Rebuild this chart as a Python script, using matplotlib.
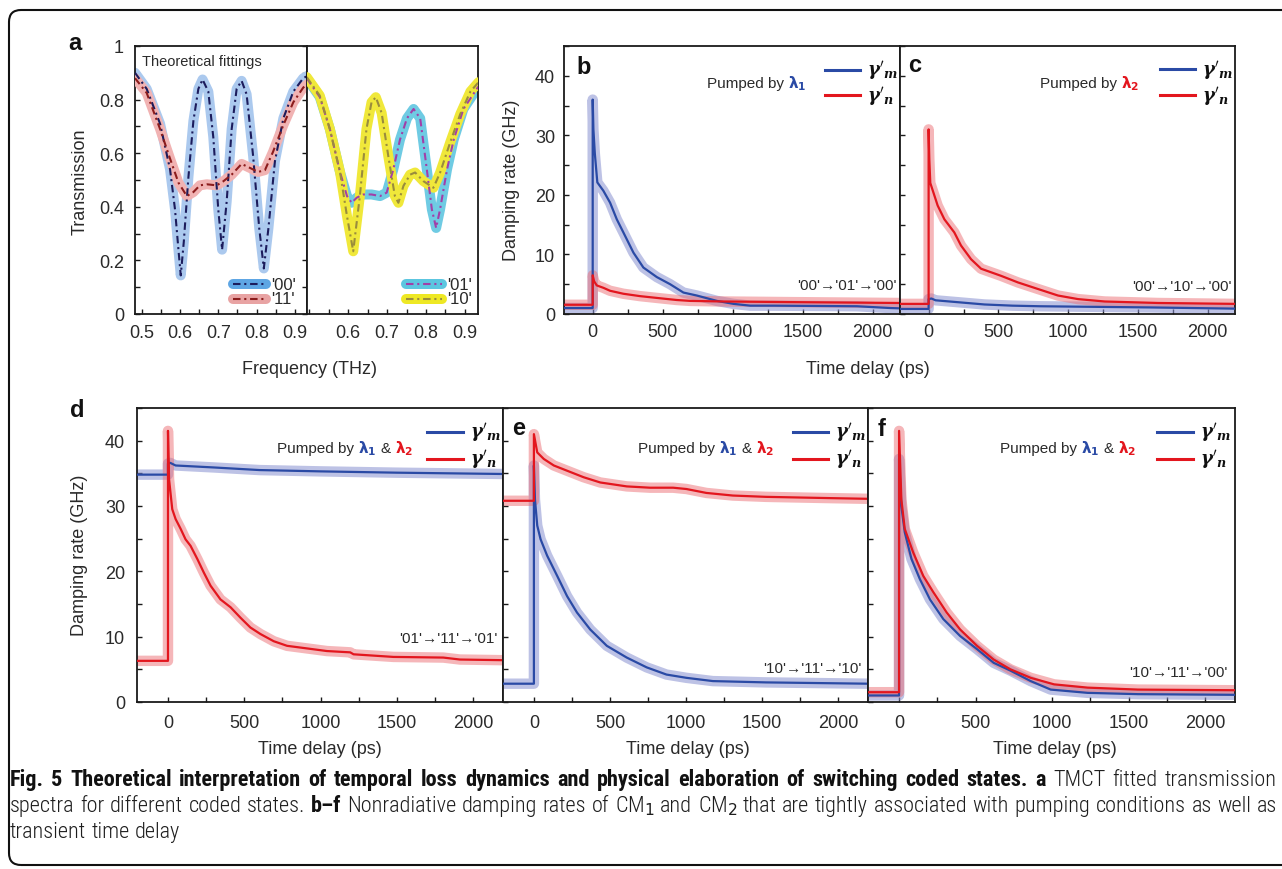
import matplotlib
matplotlib.use("Agg")
import matplotlib.pyplot as plt
from matplotlib import font_manager as fm
from matplotlib.lines import Line2D
from matplotlib.patches import FancyBboxPatch
from matplotlib.transforms import IdentityTransform
from matplotlib.ticker import FixedLocator, MultipleLocator, FuncFormatter
from matplotlib.mathtext import MathTextParser

# ---------------- data ----------------
# (a) fitted transmission spectra
freq_00 = [0.4825, 0.513, 0.548, 0.574, 0.587, 0.596, 0.602, 0.610, 0.622, 0.635, 0.648, 0.659,
           0.674, 0.687, 0.700, 0.710, 0.722, 0.735, 0.748, 0.761, 0.774, 0.791, 0.807, 0.819,
           0.831, 0.848, 0.870, 0.896, 0.922, 0.935]
trans_00 = [0.90, 0.84, 0.71, 0.54, 0.39, 0.24, 0.144, 0.27, 0.51, 0.72, 0.84, 0.875,
            0.83, 0.66, 0.39, 0.24, 0.42, 0.69, 0.84, 0.87, 0.82, 0.59, 0.32, 0.17,
            0.32, 0.57, 0.73, 0.83, 0.88, 0.89]
freq_11 = [0.4825, 0.513, 0.548, 0.574, 0.596, 0.618, 0.635, 0.652, 0.670, 0.696, 0.713, 0.735,
           0.761, 0.783, 0.804, 0.822, 0.843, 0.870, 0.896, 0.922, 0.935]
trans_11 = [0.88, 0.825, 0.69, 0.58, 0.49, 0.44, 0.455, 0.48, 0.484, 0.48, 0.495, 0.52,
            0.56, 0.545, 0.53, 0.537, 0.605, 0.705, 0.79, 0.845, 0.86]
freq_01 = [0.4935, 0.527, 0.553, 0.579, 0.597, 0.609, 0.622, 0.639, 0.660, 0.682, 0.699, 0.716,
           0.733, 0.751, 0.768, 0.785, 0.802, 0.815, 0.826, 0.836, 0.854, 0.871, 0.896, 0.935]
trans_01 = [0.88, 0.81, 0.69, 0.53, 0.44, 0.415, 0.434, 0.446, 0.446, 0.44, 0.453, 0.54,
            0.65, 0.73, 0.765, 0.73, 0.54, 0.39, 0.321, 0.39, 0.54, 0.65, 0.765, 0.85]
freq_10 = [0.4935, 0.527, 0.553, 0.579, 0.597, 0.613, 0.630, 0.647, 0.660, 0.671, 0.686, 0.703,
           0.720, 0.729, 0.742, 0.759, 0.772, 0.793, 0.819, 0.836, 0.862, 0.888, 0.914, 0.935]
trans_10 = [0.884, 0.815, 0.69, 0.53, 0.365, 0.234, 0.44, 0.69, 0.79, 0.809, 0.75, 0.59,
            0.44, 0.415, 0.478, 0.52, 0.528, 0.496, 0.471, 0.527, 0.64, 0.746, 0.83, 0.865]

# (b) pumped by lambda1
t_bm = [-205, 0, 0, 5, 15, 33, 76, 124, 172, 219, 291, 362, 458, 553, 648, 744, 887, 1006,
        1125, 1292, 1600, 1888, 2127, 2195]
g_bm = [1.0, 1.0, 36.0, 31.0, 27.0, 22.1, 20.7, 18.7, 15.9, 13.7, 10.3, 7.8, 6.2, 5.0, 3.6, 3.1,
        2.2, 1.7, 1.4, 1.4, 1.35, 1.3, 1.0, 0.95]
t_bn = [-205, 0, 0, 10, 29, 76, 124, 219, 338, 458, 600, 696, 935, 1400, 2195]
g_bn = [1.55, 1.55, 6.5, 5.5, 4.8, 4.4, 3.9, 3.4, 3.0, 2.7, 2.35, 2.2, 2.1, 2.0, 1.85]

# (c) pumped by lambda2
t_cm = [-205, 0, 0, 20, 50, 200, 400, 600, 800, 1200, 1600, 2195]
g_cm = [0.85, 0.85, 2.5, 2.6, 2.3, 2.0, 1.6, 1.4, 1.3, 1.2, 1.1, 0.9]
t_cn = [-205, 0, 0, 5, 12, 65, 113, 184, 232, 304, 376, 448, 520, 640, 783, 927, 1071, 1262,
        1645, 2195]
g_cn = [1.7, 1.7, 31.0, 26.0, 22.0, 18.2, 15.9, 13.7, 11.5, 9.2, 7.6, 7.0, 6.4, 5.3, 4.2, 3.1,
        2.5, 2.1, 1.85, 1.7]

# (d) pumped by lambda1 & lambda2, '01' -> '11' -> '01'
t_dm = [-203, 0, 0, 15, 50, 300, 600, 1000, 1500, 2195]
g_dm = [34.8, 34.8, 36.5, 36.6, 36.2, 35.9, 35.5, 35.3, 35.1, 34.9]
t_dn = [-203, 0, 0, 7, 28, 50, 83, 115, 148, 192, 235, 279, 344, 410, 475, 540, 606, 693, 780,
        911, 1041, 1194, 1216, 1477, 1804, 1913, 2195]
g_dn = [6.3, 6.3, 41.5, 34.1, 29.5, 28.0, 26.5, 24.9, 23.9, 21.9, 19.8, 17.8, 15.7, 14.5, 12.9,
        11.4, 10.4, 9.3, 8.6, 8.2, 7.8, 7.6, 7.3, 6.9, 6.8, 6.5, 6.4]

# (e) '10' -> '11' -> '10'
t_em = [-203, 0, 0, 7, 22, 44, 87, 153, 218, 283, 370, 479, 610, 741, 871, 1002, 1176, 1525, 2195]
g_em = [2.8, 2.8, 36.2, 31.0, 27.0, 24.9, 22.4, 19.3, 16.2, 13.7, 11.1, 8.6, 6.8, 5.3, 4.2, 3.7,
        3.2, 3.0, 2.8]
t_en = [-203, 0, 0, 22, 65, 131, 218, 327, 436, 610, 763, 915, 1002, 1133, 1307, 1525, 1743,
        1961, 2195]
g_en = [30.8, 30.8, 41.0, 38.2, 37.2, 36.2, 35.4, 34.4, 33.6, 33.0, 32.8, 32.8, 32.6, 32.0, 31.6,
        31.4, 31.3, 31.2, 31.1]

# (f) '10' -> '11' -> '00'
t_fm = [-203, 0, 0, 15, 37, 81, 136, 202, 289, 399, 509, 618, 728, 860, 991, 1232, 1561, 2195]
g_fm = [1.0, 1.0, 37.2, 30.0, 26.0, 21.9, 18.8, 15.7, 12.7, 10.1, 8.1, 6.0, 4.8, 3.2, 1.9, 1.4,
        1.2, 1.1]
t_fn = [-203, 0, 0, 15, 37, 92, 158, 224, 311, 399, 509, 618, 728, 860, 1013, 1232, 1561, 2195]
g_fn = [1.5, 1.5, 41.5, 31.0, 26.5, 22.9, 19.3, 16.8, 13.7, 11.1, 8.6, 6.5, 5.0, 3.7, 2.7, 2.2,
        1.9, 1.8]

time_ticks = [0, 500, 1000, 1500, 2000]
rate_ticks = [0, 10, 20, 30, 40]
freq_ticks_left = [0.5, 0.6, 0.7, 0.8, 0.9]
freq_ticks_right = [0.6, 0.7, 0.8, 0.9]
trans_ticks = [0, 0.2, 0.4, 0.6, 0.8, 1.0]

# ---------------- styling ----------------
plt.rcParams["font.family"] = ["Liberation Sans", "DejaVu Sans"]
plt.rcParams["axes.linewidth"] = 1.3
plt.rcParams["axes.edgecolor"] = "#1a1a1a"

W, H = 1282, 870
fig = plt.figure(figsize=(W / 100, H / 100), dpi=100)
renderer = fig.canvas.get_renderer()

BLUE, RED = "#2a4aa5", "#e3161e"
BLUE_BAND, RED_BAND = "#8890d0", "#ec6e74"
TXT = "#2a2a2a"


def add_ax(x0, y0, x1, y1):
    return fig.add_axes([x0 / W, 1 - y1 / H, (x1 - x0) / W, (y1 - y0) / H])


def fxy(x, y):
    return x / W, 1 - y / H


def ftext(x, y, s, **kw):
    return fig.text(*fxy(x, y), s, **kw)


def text_width(s, **kw):
    t = fig.text(0, 0, s, **kw)
    w = t.get_window_extent(renderer).width
    t.remove()
    return w


def style_axis(ax, xlim, ylim, xmajor, xminor, ymajor, yminor, xfmt, yfmt,
               show_ylabels, xpad, ypad, right_ticks=False):
    ax.set_xlim(*xlim)
    ax.set_ylim(*ylim)
    ax.xaxis.set_major_locator(FixedLocator(xmajor))
    ax.xaxis.set_minor_locator(MultipleLocator(xminor))
    ax.yaxis.set_major_locator(FixedLocator(ymajor))
    ax.yaxis.set_minor_locator(MultipleLocator(yminor))
    ax.xaxis.set_major_formatter(FuncFormatter(xfmt))
    ax.yaxis.set_major_formatter(FuncFormatter(yfmt))
    ax.tick_params(which="both", direction="in", length=3.8, width=1.0, color="#1a1a1a",
                   top=False, right=right_ticks, labelsize=13, labelcolor=TXT)
    ax.tick_params(axis="x", pad=xpad)
    ax.tick_params(axis="y", pad=ypad, labelleft=show_ylabels)


def gfmt(v, _):
    return f"{v:g}"


def band_line(ax, x, y, band_color, line_color, band_alpha=0.55):
    ax.plot(x, y, color=band_color, lw=7.5, alpha=band_alpha, solid_capstyle="round",
            solid_joinstyle="round", zorder=2)
    ax.plot(x, y, color=line_color, lw=1.6, zorder=4)


def fit_line(ax, x, y, band_color, line_color, band_z, line_z):
    ax.plot(x, y, color=band_color, lw=7.2, solid_capstyle="round", solid_joinstyle="round",
            zorder=band_z)
    ax.plot(x, y, color=line_color, lw=1.5, ls=(0, (3.6, 1.8, 1.0, 1.8)), zorder=line_z)


# ---------------- panel a ----------------
a1 = add_ax(135, 47, 306.7, 315)
a2 = add_ax(306.7, 47, 478, 315)
fit_line(a1, freq_00, trans_00, "#abc9ee", "#1c1c5c", 2, 4)
fit_line(a1, freq_11, trans_11, "#f1b3b3", "#8c1c1c", 3, 5)
fit_line(a2, freq_01, trans_01, "#6fcbe3", "#a23fa8", 2, 4)
fit_line(a2, freq_10, trans_10, "#f0e83a", "#9a8c3c", 3, 5)
style_axis(a1, (0.4825, 0.931), (0, 1), freq_ticks_left, 0.05, trans_ticks, 0.1, gfmt, gfmt,
           True, 7, 8, right_ticks=True)
style_axis(a2, (0.4935, 0.9335), (0, 1), freq_ticks_right, 0.05, trans_ticks, 0.1, gfmt, gfmt,
           False, 7, 8)
a2.tick_params(axis="y", left=False, which="both")

ftext(142, 66, "Theoretical fittings", fontsize=10.5, color=TXT)


def fit_legend(x0, x1, y, band_color, line_color, label):
    fig.add_artist(Line2D([x0 / W, x1 / W], [1 - y / H] * 2, transform=fig.transFigure,
                          color=band_color, lw=7.2, solid_capstyle="round"))
    fig.add_artist(Line2D([x0 / W, x1 / W], [1 - y / H] * 2, transform=fig.transFigure,
                          color=line_color, lw=1.5, ls=(0, (3.6, 1.8, 1.0, 1.8))))
    ftext(x1 + 5, y, label, fontsize=12, color=TXT, va="center", ha="left")


fit_legend(233, 266, 285, "#5ea6e4", "#1c1c5c", "'00'")
fit_legend(233, 266, 300, "#e8a3a3", "#8c1c1c", "'11'")
fit_legend(406, 442, 285, "#5cc6e0", "#a23fa8", "'01'")
fit_legend(406, 442, 300, "#eee824", "#9a8c3c", "'10'")

ftext(80, 182, "Transmission", rotation=90, ha="center", va="center", fontsize=13, color=TXT)
ftext(310, 369, "Frequency (THz)", ha="center", va="center", fontsize=13, color=TXT)

# ---------------- time-resolved panels ----------------
gamma_m = r"$\mathbfit{\gamma}'_{\mathbfit{m}}$"
gamma_n = r"$\mathbfit{\gamma}'_{\mathbfit{n}}$"
try:
    MathTextParser("agg").parse(gamma_m)
except Exception:
    gamma_m = r"$\gamma'_m$"
    gamma_n = r"$\gamma'_n$"

lam1 = r"$\mathbf{\lambda_1}$"
lam2 = r"$\mathbf{\lambda_2}$"


def runs(x, y, parts, size):
    gap = text_width("a a", fontsize=size) - text_width("aa", fontsize=size)
    cx = x
    for s, color in parts:
        t = ftext(cx, y, s, fontsize=size, color=color, va="baseline", ha="left")
        cx += t.get_window_extent(renderer).width + gap


def rate_legend(x0, x1, y_m, y_n):
    for y, c, lab in ((y_m, BLUE, gamma_m), (y_n, RED, gamma_n)):
        fig.add_artist(Line2D([x0 / W, x1 / W], [1 - y / H] * 2, transform=fig.transFigure,
                              color=c, lw=2.2))
        ftext(x1 + 7, y, lab, fontsize=13, color="#111111", va="center", ha="left",
              math_fontfamily="dejavuserif")


def rate_panel(box, tm, gm, tn, gn, xlim, show_ylabels, xpad, ypad):
    ax = add_ax(*box)
    band_line(ax, tm, gm, BLUE_BAND, BLUE)
    band_line(ax, tn, gn, RED_BAND, RED, 0.5)
    style_axis(ax, xlim, (0, 45), time_ticks, 250, rate_ticks, 5,
               lambda v, _: f"{v:.0f}", lambda v, _: f"{v:.0f}", show_ylabels, xpad, ypad)
    return ax


ax_b = rate_panel((564, 47, 900, 315), t_bm, g_bm, t_bn, g_bn, (-205, 2195), True, 6.5, 6.5)
ax_c = rate_panel((900, 47, 1235, 315), t_cm, g_cm, t_cn, g_cn, (-205, 2195), False, 6.5, 6.5)
ax_d = rate_panel((137, 409, 503, 703), t_dm, g_dm, t_dn, g_dn, (-203, 2195), True, 8.5, 8.5)
ax_e = rate_panel((503, 409, 868, 703), t_em, g_em, t_en, g_en, (-203, 2195), False, 8.5, 8.5)
ax_f = rate_panel((868, 409, 1235, 703), t_fm, g_fm, t_fn, g_fn, (-203, 2195), False, 8.5, 8.5)

# panel letters
for x, y, s in ((68, 50, "a"), (576, 74, "b"), (908, 72, "c"), (70, 417, "d"),
                (512, 435, "e"), (878, 436, "f")):
    ftext(x, y, s, fontsize=17, fontweight="bold", color="#111111", va="baseline")

# pump annotations
runs(707, 88, [("Pumped by", TXT), (lam1, BLUE)], 11)
runs(1040, 88, [("Pumped by", TXT), (lam2, RED)], 11)
for x in (277, 638, 1000):
    runs(x, 453, [("Pumped by", TXT), (lam1, BLUE), ("&", TXT), (lam2, RED)], 11)

rate_legend(825, 860, 71, 96)
rate_legend(1160, 1195, 70, 96)
rate_legend(427, 463, 433, 460)
rate_legend(793, 828, 433, 460)
rate_legend(1157, 1193, 433, 460)

# switching sequences
for x, y, s in ((897, 290, "'00'\u2192'01'\u2192'00'"),
                (1232, 291, "'00'\u2192'10'\u2192'00'"),
                (497, 643, "'01'\u2192'11'\u2192'01'"),
                (862, 673, "'10'\u2192'11'\u2192'10'"),
                (1227, 677, "'10'\u2192'11'\u2192'00'")):
    ftext(x, y, s, fontsize=11, color=TXT, ha="right", va="baseline")

# axis titles
ftext(512, 180, "Damping rate (GHz)", rotation=90, ha="center", va="center", fontsize=13, color=TXT)
ftext(80, 555, "Damping rate (GHz)", rotation=90, ha="center", va="center", fontsize=13, color=TXT)
ftext(868, 370, "Time delay (ps)", ha="center", va="center", fontsize=13, color=TXT)
for x in (320, 688, 1055):
    ftext(x, 750, "Time delay (ps)", ha="center", va="center", fontsize=13, color=TXT)

# ---------------- caption ----------------
names = {f.name for f in fm.fontManager.ttflist}
cap_kw = {}
for fam in ("Roboto Condensed", "Open Sans Condensed", "Liberation Sans Narrow"):
    if fam in names:
        cap_kw = {"family": [fam, "DejaVu Sans"]}
        break
else:
    if any(f.name == "DejaVu Sans" and "condensed" in str(f.stretch) for f in fm.fontManager.ttflist):
        cap_kw = {"family": ["DejaVu Sans"], "fontstretch": "condensed"}
    else:
        cap_kw = {"family": ["Liberation Sans", "DejaVu Sans"]}

caption_lines = [
    [("Fig. 5 Theoretical interpretation of temporal loss dynamics and physical elaboration of "
      "switching coded states. a", True), ("TMCT fitted transmission", False)],
    [("spectra for different coded states.", False), ("b\u2013f", True),
     ("Nonradiative damping rates of CM$_1$ and CM$_2$ that are tightly associated with pumping "
      "conditions as well as", False)],
    [("transient time delay", False)],
]

REGULAR_WEIGHT = "light"


def words_of(line):
    out = []
    for seg, bold in line:
        for w in seg.split(" "):
            out.append((w, bold))
    return out


def measure(word, bold, size):
    return text_width(word, fontsize=size, fontweight="bold" if bold else REGULAR_WEIGHT, **cap_kw)


base = 14.0
w1 = words_of(caption_lines[0])
space0 = text_width("a a", fontsize=base, **cap_kw) - text_width("aa", fontsize=base, **cap_kw)
nat = sum(measure(w, b, base) for w, b in w1) + space0 * (len(w1) - 1)
size = max(10.0, min(16.0, base * 1262.0 / nat))
space = text_width("a a", fontsize=size, **cap_kw) - text_width("aa", fontsize=size, **cap_kw)

x_left, x_right = 10, 1277
for i, (line, y) in enumerate(zip(caption_lines, (786, 812, 838))):
    words = words_of(line)
    widths = [measure(w, b, size) for w, b in words]
    if i < 2:
        gap = (x_right - x_left - sum(widths)) / (len(words) - 1)
    else:
        gap = space
    cx = x_left
    for (w, b), wd in zip(words, widths):
        ftext(cx, y, w, fontsize=size, fontweight="bold" if b else REGULAR_WEIGHT,
              color="#111111" if b else "#1e1e1e", va="baseline", ha="left", **cap_kw)
        cx += wd + gap

# outer rounded frame
frame = FancyBboxPatch((9, H - 866), 1300, 855, boxstyle="round,pad=0,rounding_size=12",
                       fill=False, lw=1.5, edgecolor="#111111", transform=IdentityTransform(),
                       clip_on=False)
fig.add_artist(frame)

fig.savefig("out.png", dpi=100)
